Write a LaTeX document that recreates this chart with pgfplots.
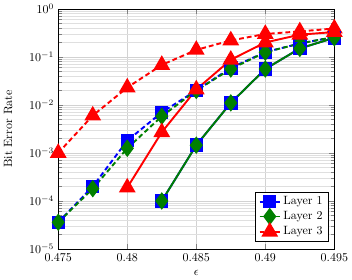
\documentclass[border=0pt]{standalone}
\usepackage{pgfplots}
\pgfplotsset{compat=1.18}
\begin{document}
\begin{tikzpicture}
\begin{axis}[
  scale only axis,
  width=230pt, height=200pt,
  ymode=log,
  xmin=0.475, xmax=0.495,
  ymin=1e-5, ymax=1,
  xtick={0.475,0.48,0.485,0.49,0.495},
  xticklabels={0.475,0.48,0.485,0.49,0.495},
  grid=both,
  major grid style={gray!35},
  minor grid style={gray!25},
  xlabel={$\epsilon$},
  ylabel={Bit Error Rate},
  ylabel style={yshift=7pt},
  legend style={at={(0.98,0.03)},anchor=south east},
  legend cell align=left,
]
\addplot[blue, line width=1.6pt, dash pattern=on 4pt off 2.5pt, mark=square*, mark size=4.8pt, mark options={solid}]
coordinates {(0.475,3.6e-5)(0.4775,2.0e-4)(0.48,1.8e-3)(0.4825,7.0e-3)(0.485,2.0e-2)(0.4875,5.9e-2)(0.49,0.126)(0.4925,0.19)(0.495,0.26)};
\addlegendentry{Layer 1}
\addplot[green!50!black, line width=1.6pt, dash pattern=on 4pt off 2.5pt, mark=diamond*, mark size=6pt, mark options={solid}]
coordinates {(0.475,3.6e-5)(0.4775,1.8e-4)(0.48,1.25e-3)(0.4825,5.8e-3)(0.485,2.0e-2)(0.4875,5.6e-2)(0.49,0.125)(0.4925,0.19)(0.495,0.26)};
\addlegendentry{Layer 2}
\addplot[red, line width=1.6pt, dash pattern=on 4pt off 2.5pt, mark=triangle*, mark size=6.5pt, mark options={solid}]
coordinates {(0.475,1.0e-3)(0.4775,6.0e-3)(0.48,2.3e-2)(0.4825,6.8e-2)(0.485,0.14)(0.4875,0.22)(0.49,0.30)(0.4925,0.34)(0.495,0.39)};
\addlegendentry{Layer 3}
\addplot[blue, line width=1.6pt, mark=square*, mark size=4.8pt, forget plot]
coordinates {(0.4825,1.0e-4)(0.485,1.45e-3)(0.4875,1.1e-2)(0.49,5.6e-2)(0.4925,0.15)(0.495,0.25)};
\addplot[green!50!black, line width=1.6pt, mark=diamond*, mark size=6pt, forget plot]
coordinates {(0.4825,1.0e-4)(0.485,1.45e-3)(0.4875,1.1e-2)(0.49,5.6e-2)(0.4925,0.15)(0.495,0.25)};
\addplot[red, line width=1.6pt, mark=triangle*, mark size=6.5pt, forget plot]
coordinates {(0.48,1.9e-4)(0.4825,2.7e-3)(0.485,2.1e-2)(0.4875,8.7e-2)(0.49,0.20)(0.4925,0.29)(0.495,0.33)};
\end{axis}
\end{tikzpicture}
\end{document}
